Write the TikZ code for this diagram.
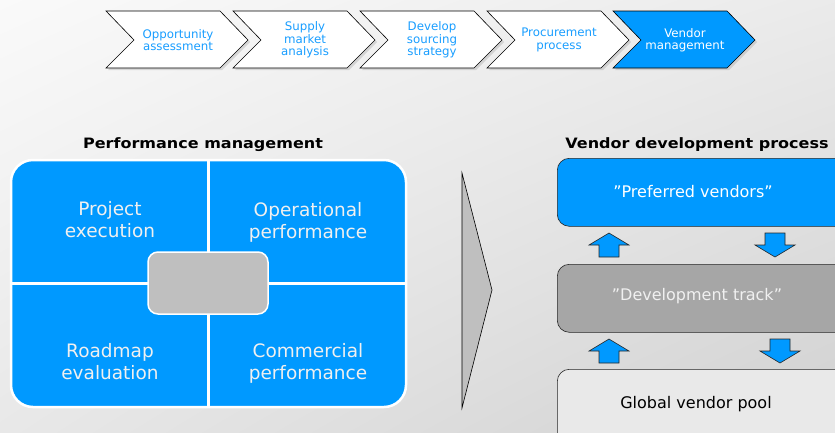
\documentclass[tikz,border=0pt]{standalone}
\usepackage{fontspec}
\setmainfont{DejaVu Sans}[BoldFeatures={FakeStretch=1.12}]
\usetikzlibrary{shadows,shadings,positioning}

\definecolor{vblue}{RGB}{0,153,255}
\definecolor{steptxt}{RGB}{25,158,255}
\definecolor{coregray}{RGB}{191,191,191}
\definecolor{trackgray}{RGB}{166,166,166}
\definecolor{poolgray}{RGB}{233,233,233}

\tikzset{
  chevron/.style={draw=black, line width=0.6pt, fill=white,
    drop shadow={shadow xshift=2pt, shadow yshift=-2pt, opacity=0.25}},
  steplabel/.style={text=steptxt, align=center, inner sep=0pt,
    font=\fontsize{11.8}{12.3}\selectfont},
  heading/.style={font=\bfseries\fontsize{14.3}{16}\selectfont},
  quad/.style={text=white!94!black, align=center,
    font=\fontsize{18.5}{22}\selectfont},
  vbox/.style={draw=black!85, line width=0.6pt, rounded corners=12pt,
    anchor=north west, minimum width=320pt, minimum height=68pt},
  boxlabel/.style={font=\fontsize{16}{18}\selectfont},
  blockarrow/.style={draw=black!85, line width=0.6pt, fill=vblue},
}

\begin{document}
\begin{tikzpicture}[x=1pt, y=-1pt]
    \useasboundingbox (0,0) rectangle (835,432);
    \clip (0,0) rectangle (835,432);
    \shade[upper left=white!98!black, upper right=black!8,
           lower left=black!9, lower right=black!18]
        (0,0) rectangle (835,432);

    % process chevrons along the top
    \foreach \x/\name/\txt in {106/opp/{Opportunity\\assessment},
            233/sup/{Supply\\market\\analysis},
            360/dev/{Develop\\sourcing\\strategy},
            487/proc/{Procurement\\process}} {
        \draw[chevron] (\x,11) -- ++(114,0) -- ++(28,29) -- ++(-28,28)
            -- ++(-114,0) -- ++(28,-28) -- cycle;
        \node[steplabel] (\name) at (\x+72,40) {\txt};
    }
    \draw[chevron, fill=vblue] (613,11) -- ++(114,0) -- ++(28,29) -- ++(-28,28)
        -- ++(-114,0) -- ++(28,-28) -- cycle;
    \node[steplabel, text=white] (vm) at (685,40) {Vendor\\management};

    % performance management
    \node[heading] (perftitle) at (203,145) {Performance management};
    \node[draw=white, line width=2.5pt, fill=vblue, rounded corners=22pt,
          minimum width=395pt, minimum height=247pt] (perf) at (208.5,283.5) {};
    \draw[white, line width=3pt] (perf.north) -- (perf.south);
    \draw[white, line width=3pt] (perf.west) -- (perf.east);
    \node[draw=white, line width=1.5pt, fill=coregray, rounded corners=10pt,
          minimum width=120pt, minimum height=62pt] (core) at (208,283) {};

    \node[quad] (proj) at (110,220) {Project\\execution};
    \node[quad] (oper) at (308,222) {Operational\\performance};
    \node[quad] (road) at (110,362) {Roadmap\\evaluation};
    \node[quad] (comm) at (308,363) {Commercial\\performance};

    % funnel
    \draw[line width=0.6pt, fill=coregray] (462,173) -- (492,290) -- (462,408) -- cycle;

    % vendor development tiers
    \node[heading] (vdtitle) at (697,145) {Vendor development process};
    \node[vbox, fill=vblue] (pref) at (557,158) {};
    \node[vbox, fill=trackgray] (track) at (557,264) {};
    \node[vbox, fill=poolgray, minimum height=80pt] (pool) at (557,369) {};

    \node[boxlabel, text=white] (preflbl) at ([xshift=136pt, yshift=1pt]pref.west) {”Preferred vendors”};
    \node[boxlabel, text=white!94!black] (tracklbl) at ([xshift=140pt, yshift=2pt]track.west) {”Development track”};
    \node[boxlabel] (poollbl) at (696,404) {Global vendor pool};

    % promotion / demotion arrows
    \foreach \x/\y in {609/233, 609/339}
        \draw[blockarrow] (\x,\y) -- ++(20,12) -- ++(-10,0) -- ++(0,12)
            -- ++(-20,0) -- ++(0,-12) -- ++(-10,0) -- cycle;
    \foreach \x/\y in {775/257, 780/363}
        \draw[blockarrow] (\x,\y) -- ++(20,-12) -- ++(-10,0) -- ++(0,-12)
            -- ++(-20,0) -- ++(0,12) -- ++(-10,0) -- cycle;
\end{tikzpicture}
\end{document}
